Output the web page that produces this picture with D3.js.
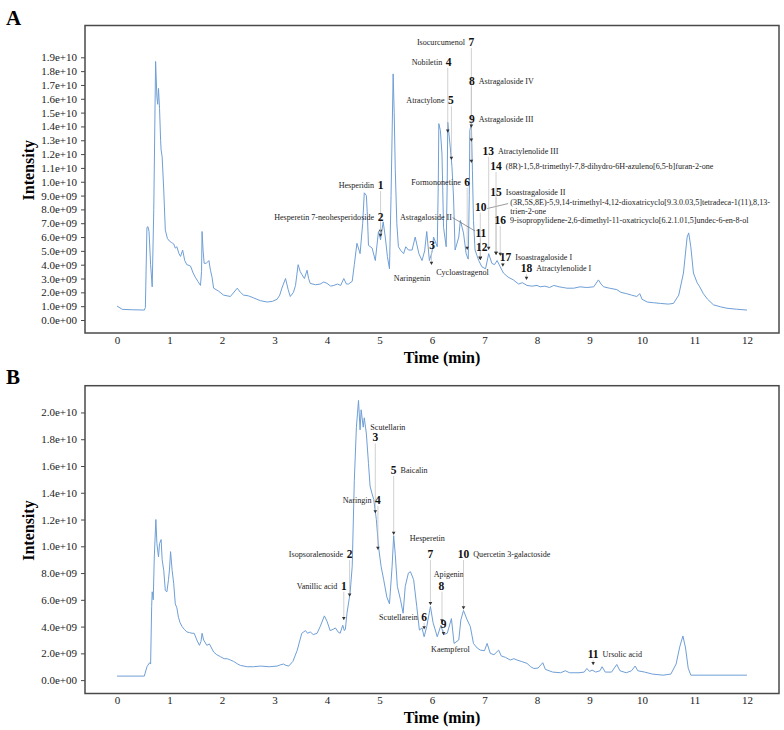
<!DOCTYPE html>
<html>
<head>
<meta charset="utf-8">
<script src="https://cdn.jsdelivr.net/npm/d3@7"></script>
<style>
  body { margin: 0; background: #fff; }
  svg { display: block; font-family: "Liberation Serif", "Times New Roman", serif; }
</style>
</head>
<body>
<svg id="chart" width="784" height="730"></svg>
<script>
// chromatogram traces: [time (min), intensity (x1e9)]
const traceA = [[0.00,1.01],[0.10,0.77],[0.30,0.74],[0.52,0.72],[0.54,0.9],[0.57,6.7],[0.59,6.75],[0.61,6.4],[0.64,4.0],[0.67,2.4],[0.70,8.0],[0.735,18.7],[0.76,16.1],[0.775,15.6],[0.79,16.75],[0.81,15.3],[0.83,13.0],[0.84,12.3],[0.86,11.8],[0.89,9.4],[0.92,6.5],[0.96,5.9],[1.00,5.7],[1.04,5.6],[1.08,5.5],[1.11,5.2],[1.14,5.3],[1.18,4.8],[1.21,4.6],[1.25,5.06],[1.29,4.3],[1.33,4.0],[1.37,3.95],[1.40,3.9],[1.45,3.4],[1.49,3.1],[1.54,2.8],[1.59,2.5],[1.61,3.5],[1.62,6.4],[1.64,5.0],[1.66,4.1],[1.70,4.1],[1.75,4.3],[1.78,3.6],[1.81,3.1],[1.84,2.3],[1.93,2.1],[2.03,1.8],[2.16,1.7],[2.29,2.3],[2.35,2.0],[2.41,1.8],[2.50,1.75],[2.60,1.6],[2.73,1.4],[2.86,1.3],[2.96,1.35],[3.05,1.5],[3.10,1.8],[3.14,2.3],[3.21,3.0],[3.26,2.2],[3.30,1.7],[3.36,2.0],[3.40,2.5],[3.45,4.0],[3.49,3.5],[3.52,3.3],[3.57,3.0],[3.62,3.6],[3.65,3.0],[3.68,2.65],[3.78,2.55],[3.87,2.6],[3.94,2.75],[4.00,2.65],[4.07,2.45],[4.13,2.5],[4.20,2.6],[4.26,2.5],[4.32,3.0],[4.37,2.6],[4.41,2.6],[4.48,2.8],[4.52,4.0],[4.57,5.55],[4.63,4.8],[4.68,7.0],[4.71,9.2],[4.75,9.0],[4.77,7.5],[4.79,5.4],[4.86,5.2],[4.92,4.3],[4.98,6.4],[5.02,5.8],[5.07,7.1],[5.11,6.0],[5.15,4.6],[5.19,3.7],[5.22,9.0],[5.26,17.8],[5.28,15.0],[5.30,10.9],[5.33,7.0],[5.36,5.3],[5.41,5.0],[5.46,4.8],[5.50,5.3],[5.55,5.06],[5.62,5.06],[5.68,6.0],[5.75,4.8],[5.81,4.3],[5.86,5.0],[5.90,6.4],[5.95,4.3],[6.00,4.9],[6.03,6.0],[6.10,5.3],[6.12,10.0],[6.13,14.2],[6.16,13.7],[6.19,12.0],[6.22,6.7],[6.27,5.3],[6.29,10.0],[6.30,14.3],[6.34,12.8],[6.38,11.1],[6.41,8.9],[6.44,5.06],[6.51,6.0],[6.54,7.2],[6.60,6.3],[6.65,4.8],[6.69,4.4],[6.71,9.0],[6.72,13.7],[6.75,14.2],[6.77,10.8],[6.79,7.2],[6.82,5.06],[6.89,4.3],[6.95,3.85],[7.02,3.7],[7.08,4.8],[7.14,4.1],[7.19,4.0],[7.24,4.3],[7.30,3.85],[7.36,3.4],[7.45,3.1],[7.55,2.9],[7.65,2.6],[7.72,2.7],[7.81,2.5],[7.90,2.45],[8.00,2.5],[8.06,2.4],[8.15,2.45],[8.24,2.35],[8.32,2.5],[8.42,2.4],[8.50,2.35],[8.57,2.3],[8.70,2.3],[8.82,2.4],[8.95,2.35],[9.08,2.4],[9.17,2.9],[9.22,2.6],[9.27,2.4],[9.38,2.3],[9.52,2.2],[9.60,2.0],[9.71,1.9],[9.80,1.8],[9.90,1.7],[9.96,1.9],[10.00,1.5],[10.10,1.3],[10.22,1.25],[10.35,1.2],[10.50,1.15],[10.60,1.2],[10.70,1.8],[10.79,3.4],[10.86,6.0],[10.89,6.3],[10.93,5.3],[10.98,3.4],[11.05,2.7],[11.10,2.4],[11.17,1.9],[11.25,1.5],[11.36,1.1],[11.50,0.95],[11.62,0.85],[11.80,0.78],[12.00,0.72]];

const traceB = [[0.00,0.3],[0.52,0.3],[0.57,1.0],[0.62,1.3],[0.64,1.2],[0.66,5.5],[0.67,6.6],[0.69,6.0],[0.71,9.2],[0.74,12.0],[0.76,10.2],[0.79,9.2],[0.81,10.2],[0.84,10.5],[0.86,9.0],[0.89,8.2],[0.92,6.7],[0.95,6.6],[0.98,7.5],[1.00,8.3],[1.02,9.6],[1.05,8.2],[1.08,7.2],[1.11,5.7],[1.14,5.4],[1.17,4.7],[1.20,4.3],[1.24,4.0],[1.28,3.8],[1.33,3.6],[1.38,3.55],[1.43,3.5],[1.47,3.5],[1.52,3.0],[1.57,2.6],[1.60,2.9],[1.62,3.5],[1.65,3.0],[1.71,2.6],[1.76,2.7],[1.80,2.4],[1.84,2.1],[1.90,1.9],[1.97,1.75],[2.04,1.6],[2.10,1.6],[2.16,1.5],[2.22,1.4],[2.30,1.2],[2.35,1.1],[2.48,1.0],[2.60,1.0],[2.73,1.05],[2.90,1.0],[3.05,1.05],[3.12,1.15],[3.17,1.2],[3.22,1.1],[3.27,1.05],[3.35,1.4],[3.43,2.2],[3.52,3.5],[3.59,3.7],[3.63,3.5],[3.68,3.6],[3.74,3.4],[3.81,3.5],[3.87,4.0],[3.95,4.8],[4.00,4.4],[4.06,3.7],[4.12,3.8],[4.16,3.9],[4.21,3.6],[4.25,3.5],[4.30,4.1],[4.33,3.7],[4.35,3.8],[4.38,5.0],[4.44,6.5],[4.48,8.5],[4.52,14.9],[4.56,18.9],[4.58,19.9],[4.60,20.9],[4.63,18.7],[4.65,20.2],[4.69,18.9],[4.71,19.6],[4.75,18.4],[4.79,16.2],[4.82,14.5],[4.86,13.9],[4.89,13.5],[4.94,12.0],[4.98,10.0],[5.03,8.5],[5.08,7.5],[5.14,6.2],[5.19,5.7],[5.24,8.5],[5.27,10.8],[5.30,9.4],[5.34,7.0],[5.40,6.0],[5.45,5.0],[5.49,7.0],[5.55,8.0],[5.59,8.1],[5.65,7.5],[5.71,5.5],[5.76,3.74],[5.81,3.9],[5.85,3.24],[5.90,4.0],[5.97,5.5],[6.02,4.3],[6.10,3.24],[6.17,4.1],[6.22,3.4],[6.29,3.5],[6.37,4.6],[6.42,2.74],[6.51,3.0],[6.55,4.5],[6.60,5.2],[6.67,4.5],[6.73,4.0],[6.79,2.74],[6.86,2.4],[6.92,2.24],[7.00,2.2],[7.05,2.74],[7.11,2.0],[7.18,1.9],[7.27,2.24],[7.32,1.8],[7.40,1.7],[7.49,1.5],[7.56,1.6],[7.62,1.5],[7.70,1.4],[7.81,1.25],[7.88,1.0],[7.94,0.87],[8.02,0.9],[8.11,1.3],[8.16,0.8],[8.30,0.6],[8.45,0.55],[8.54,0.7],[8.62,0.55],[8.80,0.55],[8.90,0.6],[8.95,0.87],[9.00,0.65],[9.05,0.75],[9.12,0.6],[9.20,0.7],[9.24,1.0],[9.30,0.6],[9.42,0.6],[9.52,1.17],[9.58,0.7],[9.70,0.55],[9.80,0.7],[9.87,1.05],[9.92,0.7],[10.05,0.6],[10.20,0.45],[10.40,0.37],[10.55,0.45],[10.65,1.2],[10.72,2.5],[10.78,3.3],[10.83,2.4],[10.88,0.9],[10.93,0.37],[11.20,0.37],[12.00,0.37]];

const timeTicks = [0,1,2,3,4,5,6,7,8,9,10,11,12];
const intensityTicksA = d3.range(0, 20, 1);
const intensityTicksB = d3.range(0, 21, 2);

// peak labels: number position (t, ni), marker position (mt, mi)
const peaksA = [
  {n:"1", name:"Hesperidin", side:"l", t:5.02, ni:9.76, mt:5.02, mi:6.3},
  {n:"2", name:"Hesperetin 7-neohesperidoside", side:"l", t:5.02, ni:7.47, mt:5.02, mi:6.0},
  {n:"3", name:"Naringenin", at:[5.62,3.06,"middle"], t:6.0, ni:5.42, mt:5.99, mi:3.98},
  {n:"4", name:"Nobiletin", side:"l", t:6.317, ni:18.67, mt:6.30, mi:13.54},
  {n:"5", name:"Atractylone", side:"l", t:6.36, ni:15.9, mt:6.37, mi:11.57},
  {n:"6", name:"Formononetine", side:"l", t:6.67, ni:10.0, mt:6.67, mi:5.06},
  {n:"7", name:"Isocurcumenol", side:"l", t:6.75, ni:20.1, mt:6.75, mi:11.35},
  {n:"8", name:"Astragaloside IV", side:"r", t:6.76, ni:17.3, mt:6.75, mi:12.9},
  {n:"9", name:"Astragaloside III", side:"r", t:6.76, ni:14.53, mt:6.75, mi:13.9},
  {n:"10", name:["(3R,5S,8E)-5,9,14-trimethyl-4,12-dioxatricyclo[9.3.0.03,5]tetradeca-1(11),8,13-", "trien-2-one"],
    at:[7.49,8.55,"start"], link:[[7.05,8.06],[7.45,8.42]], t:6.93, ni:8.19, mt:6.92, mi:4.34},
  {n:"11", name:"Astragaloside II", at:[6.38,7.47,"end"], link:[[6.39,7.41],[6.82,6.44]], t:6.93, ni:6.31, mt:6.92, mi:4.34},
  {n:"12", name:"Cycloastragenol", at:[6.58,3.49,"middle"], t:6.95, ni:5.3, mt:6.92, mi:4.34},
  {n:"13", name:"Atractylenolide III", side:"r", t:7.07, ni:12.24, mt:7.08, mi:5.06},
  {n:"14", name:"(8R)-1,5,8-trimethyl-7,8-dihydro-6H-azuleno[6,5-b]furan-2-one", side:"r", t:7.22, ni:11.13, mt:7.22, mi:4.7},
  {n:"15", name:"Isoastragaloside II", side:"r", t:7.22, ni:9.28, mt:7.22, mi:4.7},
  {n:"16", name:"9-isopropylidene-2,6-dimethyl-11-oxatricyclo[6.2.1.01,5]undec-6-en-8-ol", side:"r", t:7.30, ni:7.23, mt:7.30, mi:4.63},
  {n:"17", name:"Isoastragaloside I", side:"r", t:7.40, ni:4.58, mt:7.35, mi:3.85},
  {n:"18", name:"Atractylenolide I", side:"r", t:7.80, ni:3.74, mt:7.80, mi:2.9}
];

const peaksB = [
  {n:"1", name:"Vanillic acid", side:"l", t:4.32, ni:7.05, mt:4.32, mi:4.48},
  {n:"2", name:"Isopsoralenoside", side:"l", t:4.43, ni:9.42, mt:4.43, mi:6.23},
  {n:"3", name:"Scutellarin", at:[5.16,18.93,"middle"], t:4.92, ni:18.14, mt:4.92, mi:12.46},
  {n:"4", name:"Naringin", side:"l", t:4.97, ni:13.45, mt:4.97, mi:9.72},
  {n:"5", name:"Baicalin", side:"r", t:5.27, ni:15.7, mt:5.27, mi:10.84},
  {n:"6", name:"Scutellarein", side:"l", t:5.85, ni:4.73, mt:5.85, mi:3.79},
  {n:"7", name:"Hesperetin", at:[5.91,10.63,"middle"], t:5.97, ni:9.42, mt:5.97, mi:5.6},
  {n:"8", name:"Apigenin", at:[6.32,7.92,"middle"], t:6.18, ni:7.05, mt:6.19, mi:4.31},
  {n:"9", name:"Kaempferol", at:[6.35,2.29,"middle"], t:6.22, ni:4.19, mt:6.22, mi:3.36},
  {n:"10", name:"Quercetin 3-galactoside", side:"r", t:6.60, ni:9.42, mt:6.60, mi:5.28},
  {n:"11", name:"Ursolic acid", side:"r", t:9.07, ni:1.94, mt:9.07, mi:1.12}
];

const lineColor = "#6f9fd6";
const frameColor = "#4a4a4a";
const svg = d3.select("#chart");

function sci(v) {
  return d3.format(".1e")(v * 1e9).replace(/e([+-])(\d)$/, (m, s, d) => "e" + s + "0" + d);
}

function drawPanel(opts) {
  const x = d3.scaleLinear().domain([-0.61, 12.61]).range([85, 779]);
  const y = d3.scaleLinear().domain(opts.yDomain).range([opts.bottom, opts.top]);
  const g = svg.append("g");

  g.append("text")
    .attr("x", 6).attr("y", opts.letterY)
    .attr("font-size", 21).attr("font-weight", "bold")
    .text(opts.letter);

  g.append("path")
    .datum(opts.trace)
    .attr("fill", "none")
    .attr("stroke", lineColor)
    .attr("stroke-width", 1)
    .attr("d", d3.line().x(d => x(d[0])).y(d => y(d[1])));

  const yAxis = g.append("g")
    .attr("transform", `translate(85,0)`)
    .call(d3.axisLeft(y).tickValues(opts.yTicks).tickFormat(sci).tickSize(4).tickPadding(4));
  yAxis.select(".domain").remove();
  yAxis.selectAll("line").attr("stroke", frameColor);
  yAxis.selectAll("text").attr("font-size", 11).attr("fill", "#222")
    .attr("font-family", "Liberation Serif");

  const xAxis = g.append("g")
    .attr("transform", `translate(0,${opts.bottom})`)
    .call(d3.axisBottom(x).tickValues(timeTicks).tickSize(0).tickPadding(3));
  xAxis.select(".domain").remove();
  xAxis.selectAll("text").attr("font-size", 11).attr("fill", "#222")
    .attr("font-family", "Liberation Serif");

  g.append("rect")
    .attr("x", 85).attr("y", opts.top)
    .attr("width", 779 - 85).attr("height", opts.bottom - opts.top)
    .attr("fill", "none").attr("stroke", frameColor).attr("stroke-width", 1.5);

  g.append("text")
    .attr("x", 442).attr("y", opts.bottom + 29.5)
    .attr("text-anchor", "middle").attr("font-size", 16).attr("font-weight", "bold")
    .text("Time (min)");

  g.append("text")
    .attr("transform", `translate(34,${(opts.top + opts.bottom) / 2 - 9}) rotate(-90)`)
    .attr("text-anchor", "middle").attr("font-size", 16).attr("font-weight", "bold")
    .text("Intensity");

  const ann = g.append("g");
  opts.peaks.forEach(p => {
    const nx = x(p.t), ny = y(p.ni);
    const mx = x(p.mt), my = y(p.mi);
    if (my - 3 > ny + 6) {
      ann.append("line")
        .attr("x1", mx).attr("x2", mx).attr("y1", ny + 6).attr("y2", my - 3)
        .attr("stroke", "#bdbdbd").attr("stroke-width", 0.7);
    }
    ann.append("path")
      .attr("transform", `translate(${mx},${my})`)
      .attr("d", "M-1.8,-3.2L1.8,-3.2L0,0Z")
      .attr("fill", "#333");
    const num = ann.append("text")
      .attr("x", nx).attr("y", ny).attr("dy", "0.35em")
      .attr("text-anchor", "middle").attr("font-size", 11.5).attr("font-weight", "bold")
      .attr("fill", "#111")
      .text(p.n);
    const w = num.node().getComputedTextLength();
    const lines = Array.isArray(p.name) ? p.name : [p.name];
    let tx, ty, anchor;
    if (p.at) {
      tx = x(p.at[0]); ty = y(p.at[1]); anchor = p.at[2];
    } else if (p.side === "l") {
      tx = nx - w / 2 - 3.5; ty = ny; anchor = "end";
    } else {
      tx = nx + w / 2 + 4; ty = ny; anchor = "start";
    }
    const label = ann.append("text")
      .attr("text-anchor", anchor).attr("font-size", 8.1).attr("fill", "#222");
    lines.forEach((s, i) => {
      label.append("tspan").attr("x", tx).attr("y", ty + i * 9.3).attr("dy", "0.35em").text(s);
    });
    if (p.link) {
      ann.append("line")
        .attr("x1", x(p.link[0][0])).attr("y1", y(p.link[0][1]))
        .attr("x2", x(p.link[1][0])).attr("y2", y(p.link[1][1]))
        .attr("stroke", "#555").attr("stroke-width", 0.6);
    }
  });
}

drawPanel({letter: "A", letterY: 25, top: 25.5, bottom: 333, yDomain: [-0.94, 21.3],
  yTicks: intensityTicksA, trace: traceA, peaks: peaksA});
drawPanel({letter: "B", letterY: 384, top: 385.7, bottom: 693.5, yDomain: [-1.0, 22.0],
  yTicks: intensityTicksB, trace: traceB, peaks: peaksB});
</script>
</body>
</html>
